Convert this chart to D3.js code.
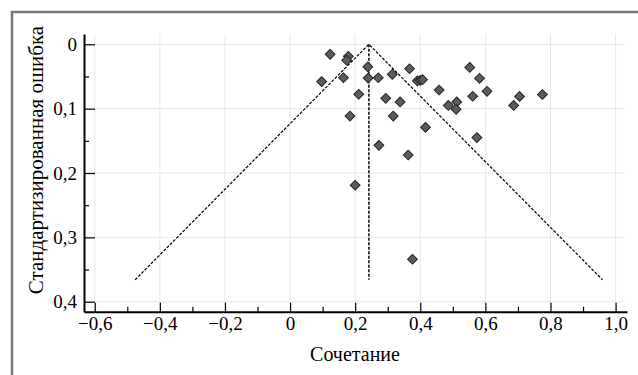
<!DOCTYPE html>
<html>
<head>
<meta charset="utf-8">
<script src="https://cdn.jsdelivr.net/npm/d3@7.9.0/dist/d3.min.js"></script>
<style>
  body { margin: 0; background: #fff; }
  svg text { font-family: "Liberation Serif", "Times New Roman", serif; }
</style>
</head>
<body>
<div id="chart"></div>
<script>
// effect size ("Сочетание") and standard error for each study
const effect = [0.123, 0.179, 0.174, 0.239, 0.367, 0.552, 0.097, 0.164, 0.240, 0.271,
  0.314, 0.391, 0.400, 0.407, 0.458, 0.582, 0.605, 0.561, 0.211, 0.294,
  0.338, 0.486, 0.512, 0.510, 0.705, 0.687, 0.775, 0.184, 0.317, 0.416,
  0.574, 0.273, 0.363, 0.200, 0.376];
const stdErr = [0.0155, 0.0186, 0.0248, 0.035, 0.038, 0.036, 0.058, 0.052, 0.0525, 0.052,
  0.0466, 0.057, 0.056, 0.055, 0.071, 0.0528, 0.073, 0.0807, 0.0776, 0.0839,
  0.0896, 0.095, 0.0896, 0.101, 0.081, 0.095, 0.078, 0.1115, 0.1115, 0.129,
  0.145, 0.157, 0.172, 0.219, 0.334];

// funnel outline and pooled estimate
const funnelX = [-0.476, 0.242, 0.960];
const funnelY = [0.366, 0, 0.366];
const pooledX = [0.242, 0.242];
const pooledY = [0, 0.366];

const xTicks = [-0.6, -0.4, -0.2, 0, 0.2, 0.4, 0.6, 0.8, 1.0];
const xMinor = [-0.5, -0.3, -0.1, 0.1, 0.3, 0.5, 0.7, 0.9];
const yTicks = [0, 0.1, 0.2, 0.3, 0.4];
const yMinor = [0.05, 0.15, 0.25, 0.35];

const width = 638;
const height = 375;

const svg = d3.select("#chart")
  .append("svg")
  .attr("width", width)
  .attr("height", height);

const x = d3.scaleLinear().domain([-0.633, 1.035]).range([84, 627]);
const y = d3.scaleLinear().domain([-0.016, 0.4155]).range([34, 311.7]);

const fmt = d => d === 0 ? "0" : d3.format(".1f")(d).replace(".", ",");

// outer frame (left + top only)
svg.append("path")
  .attr("d", `M12,${height} L12,12 L${width},12`)
  .attr("fill", "none")
  .attr("stroke", "#777")
  .attr("stroke-width", 2.5);

// gridlines
const grid = svg.append("g").attr("class", "grid");
grid.selectAll("line.v")
  .data(xTicks)
  .join("line")
  .attr("class", "v")
  .attr("x1", d => x(d)).attr("x2", d => x(d))
  .attr("y1", 34).attr("y2", 311)
  .attr("stroke", "#e8e8e8");
grid.selectAll("line.h")
  .data(yTicks)
  .join("line")
  .attr("class", "h")
  .attr("x1", 85).attr("x2", 625)
  .attr("y1", d => y(d)).attr("y2", d => y(d))
  .attr("stroke", "#e8e8e8");

// funnel lines
const line = d3.line().x(d => x(d[0])).y(d => y(d[1]));
svg.append("path")
  .datum(funnelX.map((v, i) => [v, funnelY[i]]))
  .attr("d", line)
  .attr("fill", "none")
  .attr("stroke", "#000")
  .attr("stroke-width", 1.2)
  .attr("stroke-dasharray", "3,1.5");

svg.append("path")
  .datum(pooledX.map((v, i) => [v, pooledY[i]]))
  .attr("d", line)
  .attr("fill", "none")
  .attr("stroke", "#222")
  .attr("stroke-width", 1.7)
  .attr("stroke-dasharray", "3,1.5");

// points
const diamond = d3.symbol(d3.symbolSquare, 48);
svg.append("g")
  .selectAll("path")
  .data(effect.map((v, i) => [v, stdErr[i]]))
  .join("path")
  .attr("d", diamond)
  .attr("transform", d => `translate(${x(d[0])},${y(d[1])}) rotate(45)`)
  .attr("fill", "#5c5c5c")
  .attr("stroke", "#222")
  .attr("stroke-width", 1);

// axes
svg.append("g")
  .attr("transform", `translate(0,${y.range()[1]})`)
  .call(d3.axisBottom(x).tickValues(xTicks).tickFormat(fmt).tickSize(-9).tickSizeOuter(0).tickPadding(5));
svg.append("g")
  .attr("transform", `translate(0,${y.range()[1]})`)
  .call(d3.axisBottom(x).tickValues(xMinor).tickFormat("").tickSize(-5).tickSizeOuter(0))
  .call(g => g.select(".domain").remove());

svg.append("g")
  .attr("transform", `translate(${x.range()[0]},0)`)
  .call(d3.axisLeft(y).tickValues(yTicks).tickFormat(fmt).tickSize(-11).tickSizeOuter(0).tickPadding(7));
svg.append("g")
  .attr("transform", `translate(${x.range()[0]},0)`)
  .call(d3.axisLeft(y).tickValues(yMinor).tickFormat("").tickSize(-5).tickSizeOuter(0))
  .call(g => g.select(".domain").remove());

svg.selectAll(".tick line").attr("stroke", "#000").attr("stroke-width", 1.2);
svg.selectAll(".domain").attr("stroke", "#000").attr("stroke-width", 2);
svg.selectAll(".tick text")
  .attr("fill", "#000")
  .style("font-size", "19px")
  .style("font-family", "'Liberation Serif', serif");

// axis titles
svg.append("text")
  .attr("x", 355)
  .attr("y", 361)
  .attr("text-anchor", "middle")
  .style("font-size", "20px")
  .text("Сочетание");

svg.append("text")
  .attr("transform", "translate(43,160) rotate(-90)")
  .attr("text-anchor", "middle")
  .style("font-size", "21px")
  .text("Стандартизированная ошибка");
</script>
</body>
</html>
